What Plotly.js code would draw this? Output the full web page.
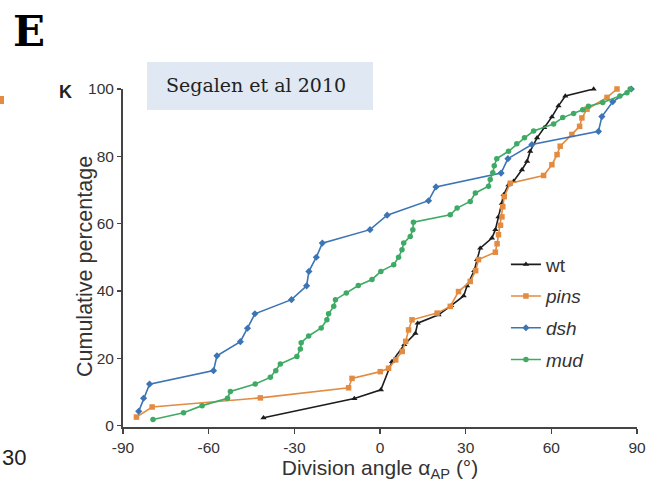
<!DOCTYPE html>
<html>
<head>
<meta charset="utf-8">
<script src="https://cdn.plot.ly/plotly-3.0.1.min.js"></script>
<style>html,body{margin:0;padding:0;background:#fff;}#chart{width:658px;height:487px;}</style>
</head>
<body>
<div id="chart"></div>
<script>
// Series names
var seriesNames = ["wt", "<i>pins</i>", "<i>dsh</i>", "<i>mud</i>"];

// wt (black triangles)
var wtX = [-40.8, -9, 0.3, 4.2, 8.5, 12.4, 13.2, 20.5, 24.9, 29.3, 30.5, 33, 34, 35.1, 39.2, 40.4, 41.5, 42.7, 43.3, 45, 46.8, 49.7, 51.5, 52.6, 55, 57.5, 60.2, 62.5, 64.9, 74.8];
var wtY = [2.3, 8, 10.6, 19, 24, 27.4, 30.4, 32.9, 35.6, 38.5, 41.5, 46, 49.3, 52.7, 55.7, 58.2, 62, 66, 68.6, 71.5, 72.6, 76, 78.5, 81.5, 85.5, 88.5, 91.7, 95, 97.9, 100];

// pins (orange squares)
var pinsX = [-85.3, -79.8, -41.9, -11, -9.8, 0.1, 3, 5.5, 7.8, 9, 10, 11.2, 20, 24.6, 27.5, 31.6, 33.5, 34.5, 40.4, 41, 41.5, 42.2, 42.7, 43, 43.5, 45.6, 57.3, 60.2, 62, 63.1, 67.2, 69.9, 70.7, 72.5, 79.5, 83];
var pinsY = [2.5, 5.5, 8.2, 11.2, 14, 16, 17, 19.5, 22, 25, 28.4, 31.4, 33.4, 35.4, 39.8, 42.8, 46, 49.3, 51.5, 54, 56.7, 59.5, 62, 65, 68, 72, 74.3, 77.5, 80.5, 83, 86.5, 88.9, 91.4, 94, 97.5, 100];

// dsh (blue diamonds)
var dshX = [-84.5, -82.8, -80.7, -58.3, -57.1, -48.9, -46.4, -43.8, -31, -25.7, -24.9, -22.3, -20.2, -3.5, 2.5, 17, 19.6, 42.4, 44.8, 53.2, 76.5, 77.7, 81.5, 88];
var dshY = [4.2, 8.1, 12.3, 16.3, 20.7, 24.9, 28.9, 33.2, 37.4, 41.5, 45.8, 50, 54.2, 58.2, 62.5, 66.8, 70.9, 75, 79.3, 83.5, 87.4, 91.8, 96.2, 100];

// mud (green circles)
var mudX = [-79.5, -68.8, -62.3, -53.4, -52.4, -43.7, -38.4, -36.5, -34.9, -29.1, -27.9, -27.6, -25, -20.6, -18.6, -18, -16.2, -15.6, -11.8, -7.6, -2.8, 0.3, 4.8, 6.5, 7.7, 8.3, 10.6, 11.5, 11.7, 24.6, 27, 31.6, 33.4, 38, 38.6, 39.5, 40, 40.9, 45, 47.9, 50.6, 53.8, 60.8, 64, 67.8, 71, 73, 78, 84, 86.5, 87.6];
var mudY = [1.8, 3.8, 5.9, 8.1, 10.1, 12.3, 14.3, 16.3, 18.3, 20.5, 22.7, 24.6, 26.6, 29, 31.4, 33.2, 35.4, 37.4, 39.4, 41.6, 43.4, 45.8, 47.8, 50, 52.2, 54.2, 56.2, 58.2, 60.4, 62.6, 64.6, 66.6, 69.1, 71.1, 73.1, 75.1, 77.2, 79.3, 81.5, 83.7, 85.5, 87.5, 89.6, 91.5, 92.7, 93.8, 94.9, 96, 97.9, 98.9, 100];

// Axis ticks
var xTicks = [-90, -60, -30, 0, 30, 60, 90];
var yTicks = [0, 20, 40, 60, 80, 100];

var colors = ["#1c1c1c", "#e38b40", "#3d74b4", "#3eaa64"];
var symbols = ["triangle-up", "square", "diamond", "circle"];
var xs = [wtX, pinsX, dshX, mudX];
var ys = [wtY, pinsY, dshY, mudY];

var traces = [];
for (var i = 0; i < 4; i++) {
  traces.push({
    x: xs[i], y: ys[i], name: seriesNames[i],
    type: "scatter", mode: "lines+markers",
    legendgroup: "g" + i,
    line: {color: colors[i], width: 1.6},
    marker: {color: colors[i], symbol: symbols[i], size: 5.5, line: {width: 0}},
    cliponaxis: false
  });
}

var layout = {
  width: 658, height: 487,
  paper_bgcolor: "#ffffff", plot_bgcolor: "#ffffff",
  margin: {l: 123, r: 21, t: 89, b: 60},
  showlegend: true,
  legend: {
    x: 0.745, y: 0.537, xanchor: "left", yanchor: "top",
    bgcolor: "rgba(0,0,0,0)", traceorder: "grouped", tracegroupgap: 4,
    itemwidth: 30,
    font: {family: "Liberation Sans, Arial, sans-serif", size: 19, color: "#333"}
  },
  xaxis: {
    range: [-90, 90], tickvals: xTicks, ticktext: xTicks.map(String),
    showgrid: false, zeroline: false, showline: true, linecolor: "#444", linewidth: 2,
    ticks: "outside", ticklen: 5, tickwidth: 1.3, tickcolor: "#444",
    tickfont: {family: "Liberation Sans Narrow, Liberation Sans, Arial, sans-serif", size: 15.5, color: "#333"},
    title: {text: "Division angle α<sub>AP</sub> (°)", standoff: 3,
      font: {family: "Liberation Sans, Arial, sans-serif", size: 21, color: "#333"}}
  },
  yaxis: {
    range: [-0.45, 100], tickvals: yTicks, ticktext: yTicks.map(String),
    showgrid: false, zeroline: false, showline: true, linecolor: "#444", linewidth: 2,
    ticks: "outside", ticklen: 4, tickwidth: 1.3, tickcolor: "#444",
    tickfont: {family: "Liberation Sans Narrow, Liberation Sans, Arial, sans-serif", size: 15.5, color: "#333"}
  },
  shapes: [
    {type: "rect", xref: "paper", yref: "paper",
     x0: (147 - 123) / 514, x1: (373 - 123) / 514,
     y0: (427 - 110) / 338, y1: (427 - 62) / 338,
     fillcolor: "#dfe8f3", line: {width: 0}, layer: "below"},
    {type: "rect", xref: "paper", yref: "paper",
     x0: (0 - 123) / 514, x1: (4 - 123) / 514,
     y0: (427 - 104) / 338, y1: (427 - 96) / 338,
     fillcolor: "#e38b40", line: {width: 0}}
  ],
  annotations: [
    {text: "Cumulative percentage", xref: "paper", yref: "paper", textangle: -90,
     x: (85 - 123) / 514, y: (427 - 267) / 338, xanchor: "center", yanchor: "middle",
     showarrow: false, font: {family: "Liberation Sans, Arial, sans-serif", size: 21.5, color: "#333"}},
    {text: "Segalen et al 2010", xref: "paper", yref: "paper",
     x: (256 - 123) / 514, y: (427 - 85) / 338, xanchor: "center", yanchor: "middle",
     showarrow: false, font: {family: "DejaVu Serif, serif", size: 19, color: "#222"}},
    {text: "<b>E</b>", xref: "paper", yref: "paper",
     x: (11 - 123) / 514, y: (427 - 31) / 338, xanchor: "left", yanchor: "middle",
     showarrow: false, font: {family: "DejaVu Serif, serif", size: 42, color: "#000"}},
    {text: "<b>K</b>", xref: "paper", yref: "paper",
     x: (65 - 123) / 514, y: (427 - 92) / 338, xanchor: "center", yanchor: "middle",
     showarrow: false, font: {family: "Liberation Sans, Arial, sans-serif", size: 18, color: "#222"}},
    {text: "30", xref: "paper", yref: "paper",
     x: (0 - 123) / 514, y: (427 - 458) / 338, xanchor: "left", yanchor: "middle",
     showarrow: false, font: {family: "Liberation Sans, Arial, sans-serif", size: 22, color: "#222"}}
  ]
};

Plotly.newPlot("chart", traces, layout, {displayModeBar: false, staticPlot: true});
</script>
</body>
</html>
